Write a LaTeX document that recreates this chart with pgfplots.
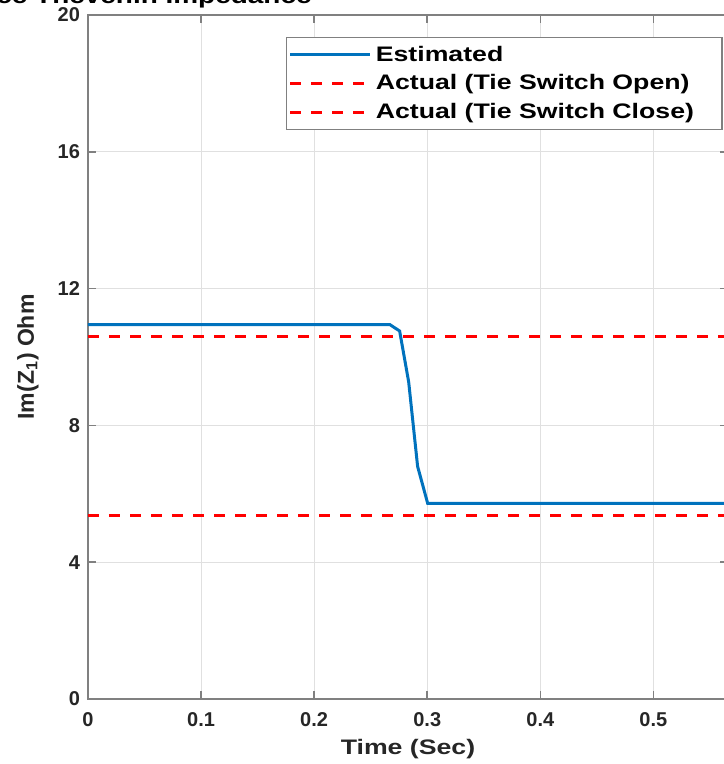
\documentclass[border=0pt]{standalone}
\usepackage{fontspec}
\setmainfont{Liberation Sans}
\newfontfamily\wide{Liberation Sans}[FakeStretch=1.27]
\usepackage{pgfplots}
\pgfplotsset{compat=1.18}
\definecolor{mblue}{rgb}{0,0.447,0.741}
\definecolor{axgray}{rgb}{0.5,0.5,0.5}
\begin{document}
\begin{tikzpicture}
\begin{axis}[
  scale only axis,
  width=320pt, height=342pt,
  xmin=0, xmax=0.566, ymin=0, ymax=20,
  xtick={0,0.1,0.2,0.3,0.4,0.5},
  ytick={0,4,8,12,16,20},
  grid=major,
  major grid style={color=black!12, line width=0.5pt},
  tick align=inside,
  major tick length=4pt,
  axis line style={axgray, line width=0.8pt},
  every tick/.style={axgray, line width=0.8pt},
  /pgf/number format/assume math mode=true,
  xticklabel style={/pgf/number format/fixed, /pgf/number format/precision=1, yshift=-3pt},
  ticklabel style={font=\fontsize{10}{12}\selectfont\bfseries, text=black!85},
  yticklabel style={xshift=-0.5pt},
  every axis x label/.style={at={(axis description cs:0.5,-0.073)}, anchor=center},
  every axis y label/.style={at={(axis description cs:-0.094,0.5)}, rotate=90, anchor=center},
  xlabel style={font=\wide\fontsize{10.5}{12.5}\selectfont\bfseries, text=black!85},
  ylabel style={font=\fontsize{11.5}{13}\selectfont\bfseries, text=black!85},
  xlabel={Time (Sec)},
  ylabel={Im(Z$_{\mathbf{1}}$) Ohm},
  legend style={at={(axis cs:0.5612,19.36)}, anchor=north east,
    draw=axgray, line width=0.6pt, fill=white,
    font=\wide\fontsize{10.5}{12.5}\selectfont\bfseries,
    inner xsep=1pt, inner ysep=2.2pt, row sep=1.2pt,
    nodes={inner xsep=2pt}},
  legend cell align=left,
  legend image code/.code={\draw[#1] (0pt,0pt) -- (40pt,0pt);},
]
\addplot[mblue, line width=1.5pt] coordinates {
  (0,10.95) (0.2668,10.95) (0.2756,10.76) (0.2836,9.27) (0.2915,6.8) (0.3004,5.72) (0.566,5.72)
};
\addlegendentry{Estimated}
\addplot[red, line width=1.5pt, dash pattern=on 5.5pt off 5pt] coordinates {(0,10.59) (0.566,10.59)};
\addlegendentry{Actual (Tie Switch Open)}
\addplot[red, line width=1.5pt, dash pattern=on 5.5pt off 5pt] coordinates {(0,5.37) (0.566,5.37)};
\addlegendentry{Actual (Tie Switch Close)\hspace*{11pt}}
\end{axis}
\node[anchor=base east, font=\wide\fontsize{11}{13}\selectfont\bfseries, inner sep=0pt] at (112pt,347.5pt) {Positive Sequence Thevenin Impedance};
\pgfresetboundingbox
\useasboundingbox (-44pt,-32.5pt) rectangle (317.5pt,349.5pt);
\end{tikzpicture}
\end{document}
